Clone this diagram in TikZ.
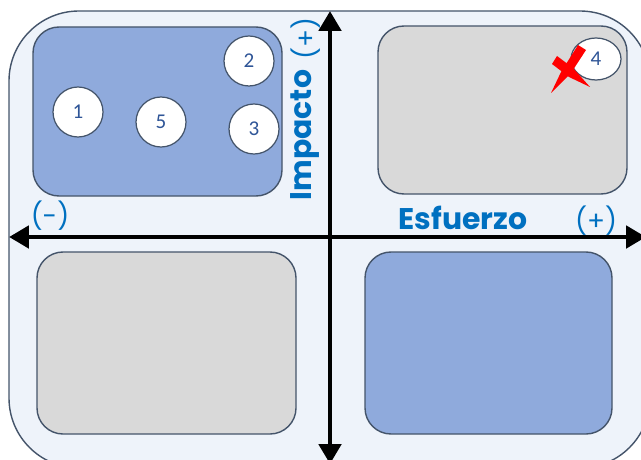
\documentclass[tikz,border=0pt]{standalone}
\usepackage{fontspec}
\setmainfont{Carlito}
\newfontfamily\headfont{Poppins}
\usetikzlibrary{arrows.meta,shapes.geometric}
\definecolor{outerfill}{RGB}{238,243,250}
\definecolor{edgecol}{RGB}{68,84,106}
\definecolor{bluebox}{RGB}{143,170,220}
\definecolor{graybox}{RGB}{217,217,217}
\definecolor{numcol}{RGB}{47,85,151}
\definecolor{labcol}{RGB}{0,112,192}
\tikzset{
  quad/.style={draw=edgecol, line width=0.8pt, rounded corners=0.52cm},
  bluequad/.style={quad, fill=bluebox},
  grayquad/.style={quad, fill=graybox},
  item/.style={circle, draw=edgecol, line width=0.7pt, fill=white, minimum size=1cm, inner sep=0pt, text=numcol, font=\fontsize{12}{14}\selectfont},
  axis/.style={line width=2.8pt, {Triangle[length=0.4cm,width=0.44cm]}-{Triangle[length=0.4cm,width=0.44cm]}},
  biglab/.style={text=labcol, font=\headfont\bfseries\fontsize{17}{20}\selectfont, inner sep=0pt},
  smalllab/.style={text=labcol, font=\headfont\fontsize{15}{18}\selectfont, inner sep=0pt},
}
\begin{document}
\begin{tikzpicture}[x=0.02cm, y=-0.02cm]
\useasboundingbox (0,0) rectangle (641,459);
\clip (0,0) rectangle (641,459);
% outer rounded panel
\draw[draw=edgecol, line width=0.8pt, fill=outerfill, rounded corners=1.4cm] (9,11) rectangle (650,468);
% quadrants
\draw[bluequad] (33,27) rectangle (282,196);
\draw[grayquad] (378,26) rectangle (627,194);
\draw[grayquad] (37,252) rectangle (296,434);
\draw[bluequad] (365,252) rectangle (612,434);
% items
\node[item] (n1) at (78,112) {1};
\node[item] (n5) at (161,122) {5};
\node[item] (n2) at (249,61) {2};
\node[item] (n3) at (254,129) {3};
\node[item, ellipse, minimum width=1cm, minimum height=0.84cm] (n4) at (596,59) {4};
% red cross
\fill[red] (551,93) -- (561,72) -- (578,45) -- (586,50) -- (571,73) -- cycle;
\fill[red] (552,64) -- (557,56) -- (573,68) -- (590,87) -- (569,77) -- cycle;
% axes
\coordinate (xl) at (9,237);
\coordinate (xr) at (646,237);
\coordinate (yt) at (330,11);
\coordinate (yb) at (330,464);
\draw[axis] (xl) -- (xr);
\draw[axis] (yt) -- (yb);
% labels
\node[biglab, rotate=90] (imp) at (305,135) {Impacto};
\node[smalllab, rotate=90] (impp) at (306,39) {(+)};
\node[biglab] (esf) at (463,218) {Esfuerzo};
\node[smalllab] (esfp) at (596,221) {(+)};
\node[smalllab] (esfm) at (50,216) {(-)};
\end{tikzpicture}
\end{document}
